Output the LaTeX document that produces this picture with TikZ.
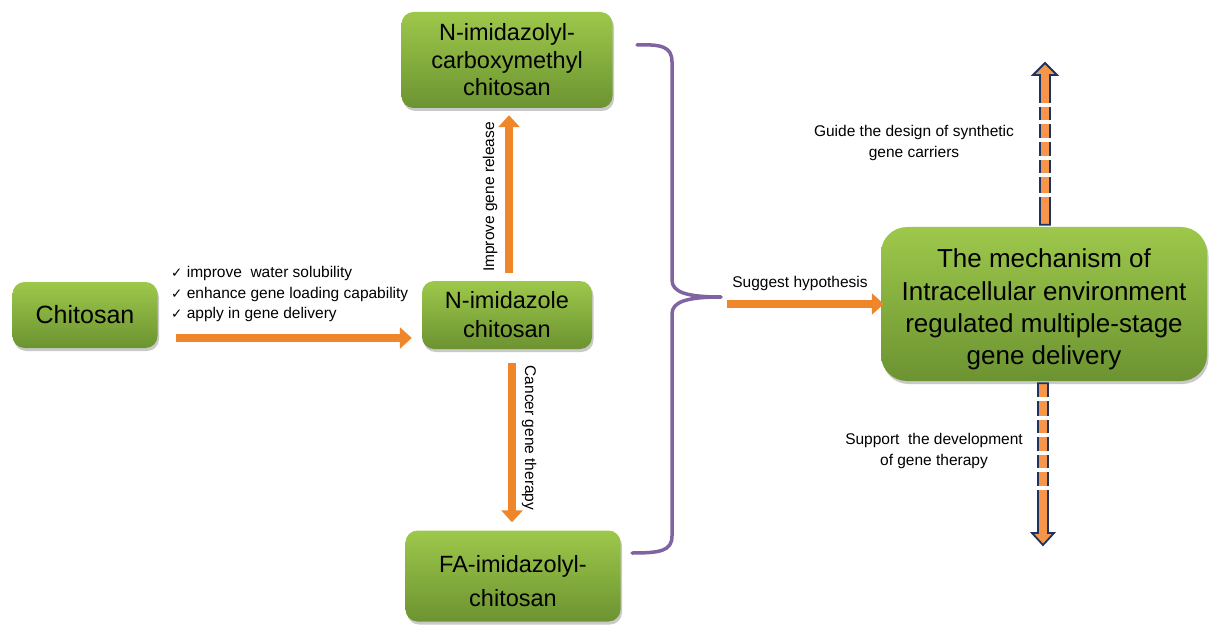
\documentclass[tikz,border=0pt]{standalone}
\usepackage{fontspec}
\setmainfont{Liberation Sans}
\newfontfamily\checkfont{DejaVu Sans}
\usetikzlibrary{arrows.meta,calc,shadows}

\definecolor{boxtop}{HTML}{9DC84B}
\definecolor{boxbot}{HTML}{6C9331}
\definecolor{arrorange}{HTML}{F0862A}
\definecolor{arrlight}{HTML}{F7964A}
\definecolor{arrnavy}{HTML}{1C3461}
\definecolor{bracepurple}{HTML}{8064A2}

\tikzset{
  greenbox/.style={rounded corners=12pt, top color=boxtop, bottom color=boxbot,
    draw=none, align=center, inner sep=0pt,
    drop shadow={shadow xshift=1.5pt, shadow yshift=-3pt, opacity=.3, fill=black!70}},
  flow/.style={draw=arrorange, line width=8pt, -{Triangle[width=21pt,length=12pt]}},
  hollowarrow/.style={draw=arrnavy, fill=arrlight, line width=1.8pt, line join=miter},
  lbl/.style={font=\fontsize{15.5}{20.5}\selectfont, inner sep=0pt},
  brace/.style={draw=bracepurple, line width=3.5pt, line cap=round, line join=round}
}

\begin{document}
\begin{tikzpicture}[x=1pt, y=-1pt]
        \useasboundingbox (0,0) rectangle (1209,628);
        \node[greenbox, minimum width=145pt, minimum height=66pt,
              font=\fontsize{25}{28}\selectfont] (chitosan) at (85,315) {Chitosan};
        \node[greenbox, minimum width=170pt, minimum height=68pt,
              font=\fontsize{23.5}{29}\selectfont] (imid) at (507,315) {N-imidazole\\chitosan};
        \node[greenbox, minimum width=211pt, minimum height=96pt,
              font=\fontsize{23.5}{27.5}\selectfont] (cmc) at (507,60) {N-imidazolyl-\\carboxymethyl\\chitosan};
        \node[greenbox, minimum width=215pt, minimum height=91pt,
              font=\fontsize{23.5}{34}\selectfont] (fa) at (513,576) {\rule{0pt}{27pt}FA-imidazolyl-\\chitosan};
        \node[greenbox, rounded corners=26pt, minimum width=326pt, minimum height=154pt,
              font=\fontsize{26}{32.3}\selectfont] (mech) at (1044,304)
              {\rule{0pt}{30pt}The mechanism of\\Intracellular environment\\regulated multiple-stage\\gene delivery};

        \draw[flow, shorten <=18pt, shorten >=10pt] ([yshift=-23pt]chitosan.east) -- ([yshift=-23pt]chitosan.east -| imid.west);
        \node[lbl, anchor=west, align=left] (gains) at (171,294)
              {{\checkfont\fontsize{13.5}{13.5}\selectfont ✓} improve\ \ water solubility\\
               {\checkfont\fontsize{13.5}{13.5}\selectfont ✓} enhance gene loading capability\\
               {\checkfont\fontsize{13.5}{13.5}\selectfont ✓} apply in gene delivery};

        \draw[flow, shorten <=8pt, shorten >=7pt] ([xshift=2pt]imid.north) -- ([xshift=2pt]imid.north |- cmc.south);
        \node[lbl, rotate=90] (release) at (490,197) {Improve gene release};
        \draw[flow, shorten <=14pt, shorten >=8pt] ([xshift=5pt]imid.south) -- ([xshift=5pt]imid.south |- fa.north);
        \node[lbl, rotate=-90] (therapy) at (529,438) {Cancer gene therapy};

        \coordinate (tip) at (721,297);
        \draw[brace] (637,45) .. controls (662,44) and (672,47) .. (672,62) -- (672,280)
              .. controls (672,292) and (686,297) .. (tip)
              .. controls (686,297) and (672,302) .. (672,314) -- (672,536)
              .. controls (672,551) and (660,553) .. (632,553);

        \draw[flow, shorten <=6pt, shorten >=-3pt] (tip |- mech.west) -- (mech.west);
        \node[lbl] (hyp) at (800,283) {Suggest hypothesis};

        \coordinate (gtip) at (1045,63);
        \coordinate (g0) at ([yshift=2pt]mech.north -| gtip);
        \draw[hollowarrow] ($(g0)+(-5,0)$) -- ($(gtip)+(-5,12)$) -- ($(gtip)+(-12,12)$) -- (gtip)
              -- ($(gtip)+(12,12)$) -- ($(gtip)+(5,12)$) -- ($(g0)+(5,0)$) -- cycle;
        \foreach \y in {105,122,140,158,175,195}
          \fill[white] (1037,\y-1.7) rectangle (1053,\y+1.7);
        \node[lbl, align=center] (guide) at (914,143) {Guide the design of synthetic\\gene carriers};

        \coordinate (stip) at (1043,545);
        \coordinate (s0) at ([yshift=-2pt]mech.south -| stip);
        \draw[hollowarrow] ($(s0)+(-5,0)$) -- ($(stip)+(-5,-12)$) -- ($(stip)+(-11,-12)$) -- (stip)
              -- ($(stip)+(11,-12)$) -- ($(stip)+(5,-12)$) -- ($(s0)+(5,0)$) -- cycle;
        \foreach \y in {399,418,435,453,470,488}
          \fill[white] (1035,\y-1.7) rectangle (1051,\y+1.7);
        \node[lbl, align=center] (support) at (934,451) {Support\ \ the development\\of gene therapy};
\end{tikzpicture}
\end{document}
